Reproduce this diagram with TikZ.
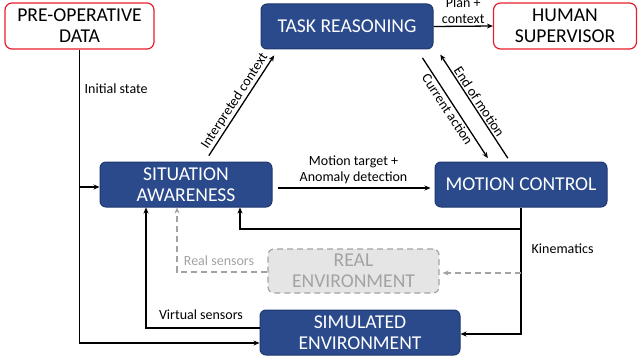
\documentclass[tikz,border=0pt]{standalone}
\usepackage{fontspec}
\setmainfont{Carlito}
\usetikzlibrary{arrows.meta}
\definecolor{boxblue}{RGB}{42,74,140}
\definecolor{boxedge}{RGB}{30,55,110}
\definecolor{redge}{RGB}{232,30,45}
\definecolor{lgray}{RGB}{163,163,163}
\definecolor{lfill}{RGB}{230,229,229}
\begin{document}
\begin{tikzpicture}[x=1pt,y=-1pt,
  bluebox/.style={draw=boxedge,line width=1pt,fill=boxblue,rounded corners=6pt,text=white,align=center,font=\fontsize{19.6}{20.8}\selectfont,inner sep=0pt},
  redbox/.style={draw=redge,line width=1.2pt,fill=white,rounded corners=7pt,text=black,align=center,font=\fontsize{19.6}{20.8}\selectfont,inner sep=0pt},
  graybox/.style={draw=lgray,dash pattern=on 6pt off 4pt,line width=1.2pt,fill=lfill,rounded corners=6pt,text=lgray,align=center,font=\fontsize{19.6}{20.8}\selectfont,inner sep=0pt},
  conn/.style={line width=1.3pt,-{Stealth[length=6pt,width=5pt]}},
  gconn/.style={line width=1.3pt,draw=lgray,dash pattern=on 6pt off 4pt,-{Stealth[length=6pt,width=5pt]}},
  lbl/.style={font=\fontsize{14}{16.5}\selectfont,align=center,inner sep=1.5pt}
]
\useasboundingbox (0,0) rectangle (639,361);
\node[redbox,minimum width=149pt,minimum height=46pt] (pre) at (79.5,26) {PRE-OPERATIVE\\DATA};
\node[bluebox,minimum width=172pt,minimum height=45pt] (tr) at (347,26.5) {TASK REASONING};
\node[redbox,minimum width=143pt,minimum height=46pt] (hs) at (565,26) {HUMAN\\SUPERVISOR};
\node[bluebox,minimum width=172pt,minimum height=45pt] (sa) at (186,184.5) {SITUATION\\AWARENESS};
\node[bluebox,minimum width=172pt,minimum height=45pt] (mc) at (521,184.5) {MOTION CONTROL};
\node[graybox,minimum width=171pt,minimum height=44pt] (re) at (353.5,271) {REAL\\ENVIRONMENT};
\node[bluebox,minimum width=200pt,minimum height=45pt] (se) at (360,332.5) {SIMULATED\\ENVIRONMENT};

% pre-operative data
\draw[conn] (pre.south) |- ([yshift=-10.5pt]se.west);
\coordinate (j1) at (pre.south |- 0,187);
\draw[conn] (j1) -- (j1 -| sa.west);
\node[lbl,anchor=west] (l1) at (83,89) {Initial state};

% plan
\draw[conn] (tr.east) -- node[lbl,above] (l2) {Plan +\\context} (hs.west);

% SA to MC
\draw[conn,shorten <=5pt,shorten >=4pt] ([yshift=-3.5pt]sa.east) -- node[lbl,above=2pt] (l3) {Motion target +\\Anomaly detection} ([yshift=-3.5pt]mc.west);

% SA to TR
\draw[conn,shorten <=7pt,shorten >=7pt] ([xshift=19pt]sa.north) -- node[lbl,sloped,above] (l4) {Interpreted context} ([xshift=-69pt]tr.south);

% TR to MC
\draw[conn,shorten <=10pt,shorten >=4pt] ([xshift=70pt]tr.south) -- node[lbl,sloped,below] (l5) {Current action} ([xshift=-31pt]mc.north);
% MC to TR
\draw[conn,shorten <=4pt,shorten >=6pt] ([xshift=-11pt]mc.north) -- node[lbl,sloped,above] (l6) {End of motion} ([xshift=90pt]tr.south);

% kinematics
\draw[conn] (mc.south) |- ([yshift=-1.5pt]se.east);
\node[lbl,anchor=west] (l7) at (530,249) {Kinematics};
\coordinate (k1) at (mc.south |- 0,229);
\draw[conn] (k1) -| ([xshift=54pt]sa.south);
\coordinate (k2) at (mc.south |- 0,273);
\draw[gconn,shorten >=3pt] (k2) -- (k2 -| re.east);

% sensors
\draw[gconn] ([yshift=-1pt]re.west) -| ([xshift=-9pt]sa.south);
\node[lbl,text=lgray] (l8) at (219,261) {Real sensors};
\draw[conn] ([yshift=4.5pt]se.west) -| ([xshift=-40pt]sa.south);
\node[lbl] (l9) at (201,315) {Virtual sensors};
\end{tikzpicture}
\end{document}
